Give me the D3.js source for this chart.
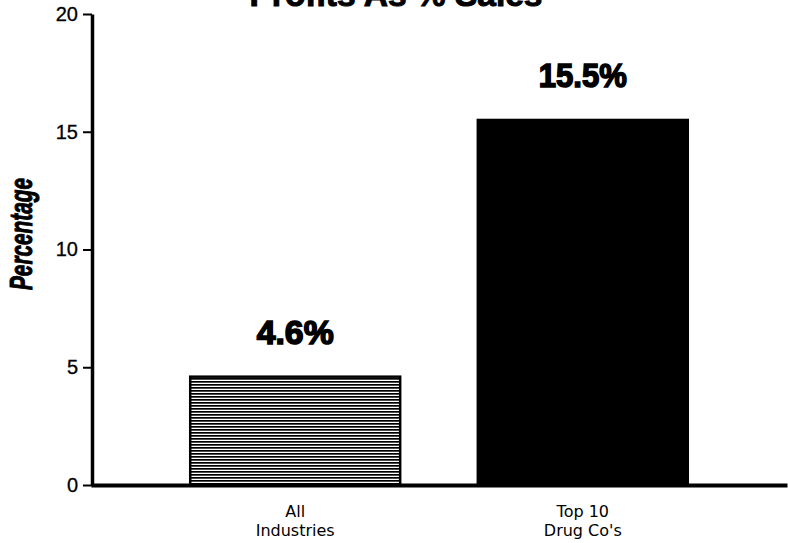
<!DOCTYPE html>
<html>
<head>
<meta charset="utf-8">
<script src="https://cdn.jsdelivr.net/npm/d3@7"></script>
<style>
  body { margin: 0; background: #fff; }
</style>
</head>
<body>
<svg id="chart" width="788" height="543" font-family="Liberation Sans, Arial, sans-serif"></svg>
<script>
// data
var categories = ["All|Industries", "Top 10|Drug Co's"];
var values = [4.6, 15.5];
var valueLabels = ["4.6%", "15.5%"];
var yTicks = [0, 5, 10, 15, 20];
var title = "Profits As % Sales";
var yTitle = "Percentage";

var width = 788, height = 543;
var svg = d3.select("#chart");

var x = d3.scaleBand()
    .domain(categories)
    .range([91, 787])
    .paddingInner(0.27)
    .paddingOuter(0.345);

var y = d3.scaleLinear()
    .domain([0, 20])
    .range([485, 14]);

// horizontal line hatch for the first bar
var defs = svg.append("defs");
var pat = defs.append("pattern")
    .attr("id", "hlines")
    .attr("patternUnits", "userSpaceOnUse")
    .attr("width", 8)
    .attr("height", 3);
pat.append("rect").attr("width", 8).attr("height", 3).attr("fill", "#fff");
pat.append("rect").attr("y", 0).attr("width", 8).attr("height", 1.7).attr("fill", "#000");

// bars
svg.append("g").selectAll("rect")
    .data(categories)
    .join("rect")
    .attr("x", function(d){ return x(d); })
    .attr("y", function(d, i){ return y(values[i]); })
    .attr("width", x.bandwidth())
    .attr("height", function(d, i){ return y(0) - y(values[i]); })
    .attr("fill", function(d, i){ return i === 0 ? "url(#hlines)" : "#000"; })
    .attr("stroke", "#000")
    .attr("stroke-width", 2.5);

// value labels
svg.append("g").selectAll("text")
    .data(categories)
    .join("text")
    .attr("x", function(d){ return x(d) + x.bandwidth() / 2; })
    .attr("y", function(d, i){ return y(values[i]) - 33; })
    .attr("text-anchor", "middle")
    .attr("font-size", 34)
    .attr("font-weight", "bold")
    .attr("stroke", "#000")
    .attr("stroke-width", 1.6)
    .attr("textLength", function(d, i){ return i === 0 ? 77 : 88; })
    .attr("lengthAdjust", "spacingAndGlyphs")
    .text(function(d, i){ return valueLabels[i]; });

// y axis
var yAxis = svg.append("g")
    .attr("transform", "translate(92,0)")
    .call(d3.axisLeft(y).tickValues(yTicks).tickSize(9).tickSizeOuter(0).tickPadding(5));
yAxis.attr("font-family", null);
yAxis.select(".domain").attr("stroke", "#000").attr("stroke-width", 3.5);
yAxis.selectAll(".tick line").attr("stroke", "#000").attr("stroke-width", 2);
yAxis.selectAll(".tick text")
    .attr("font-size", 20)
    .attr("stroke", "#000")
    .attr("stroke-width", 0.3)
    .attr("fill", "#000");

// x axis
var xAxis = svg.append("g")
    .attr("transform", "translate(0," + y(0) + ")")
    .call(d3.axisBottom(x).tickSize(0).tickSizeOuter(0).tickFormat(""));
xAxis.select(".domain").attr("stroke", "#000").attr("stroke-width", 4);

// category labels, two lines each
var cat = svg.append("g").selectAll("text")
    .data(categories)
    .join("text")
    .attr("text-anchor", "middle")
    .attr("font-size", 16)
    .attr("font-family", "DejaVu Sans, sans-serif")
    .attr("transform", function(d){ return "translate(" + (x(d) + x.bandwidth() / 2) + ",517)"; });
cat.selectAll("tspan")
    .data(function(d){ return d.split("|"); })
    .join("tspan")
    .attr("x", 0)
    .attr("dy", function(d, i){ return i === 0 ? 0 : 19; })
    .text(function(d){ return d; });

// y title
svg.append("text")
    .attr("transform", "translate(32,234) rotate(-90)")
    .attr("text-anchor", "middle")
    .attr("font-size", 32)
    .attr("font-weight", "bold")
    .attr("font-style", "italic")
    .attr("stroke", "#000")
    .attr("stroke-width", 1)
    .attr("textLength", 112)
    .attr("lengthAdjust", "spacingAndGlyphs")
    .text(yTitle);

// title, clipped by the top edge as in the scan
svg.append("text")
    .attr("x", 396)
    .attr("y", 6)
    .attr("text-anchor", "middle")
    .attr("font-size", 33)
    .attr("font-weight", "bold")
    .attr("stroke", "#000")
    .attr("stroke-width", 1)
    .attr("textLength", 293)
    .attr("lengthAdjust", "spacingAndGlyphs")
    .text(title);
</script>
</body>
</html>
